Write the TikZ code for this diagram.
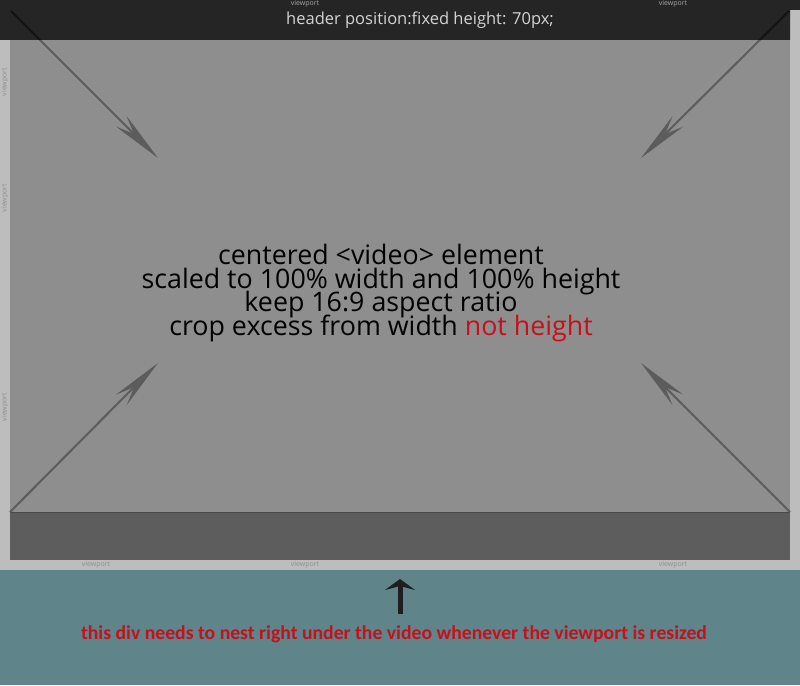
\documentclass[tikz,border=0pt]{standalone}
\usepackage{fontspec}
\setmainfont{Open Sans}
\newfontfamily\redfont{Carlito}
\usetikzlibrary{arrows.meta}
\definecolor{strip}{HTML}{BDBDBD}
\definecolor{video}{HTML}{8E8E8E}
\definecolor{band}{HTML}{5D5D5D}
\definecolor{teal}{HTML}{5F8489}
\definecolor{diag}{HTML}{5C5C5C}
\definecolor{vptop}{HTML}{A8A8A8}
\definecolor{vpbot}{HTML}{8E8E8E}
\definecolor{redtxt}{HTML}{C8101A}
\definecolor{hdrtxt}{HTML}{D4D4D4}
\tikzset{
  vplabel/.style={font=\fontsize{7}{8}\selectfont, inner sep=0pt},
  diagarrow/.style={draw=diag, line width=2pt, -{Stealth[length=52pt,width=15pt,inset=18pt]}},
  maintext/.style={font=\fontsize{26.8}{24}\selectfont, anchor=base, inner sep=0pt, text=black, text height=16pt, text depth=5pt},
}
\begin{document}
\begin{tikzpicture}[x=1pt,y=-1pt]
\useasboundingbox (0,0) rectangle (800,685);
% backgrounds
\fill[strip] (0,0) rectangle (800,570);
\fill[video] (10,40) rectangle (790,512);
\fill[band] (10,512) rectangle (790,560);
\draw[diag!80!black, line width=0.6pt] (10,512) -- (790,512);
\fill[teal] (0,570) rectangle (800,685);
% corner coordinates
\coordinate (tl) at (11,11);
\coordinate (tr) at (789,11);
\coordinate (bl) at (10,512);
\coordinate (br) at (790,512);
\coordinate (tlh) at (158,158);
\coordinate (trh) at (641,158);
\coordinate (blh) at (158,363);
\coordinate (brh) at (641,363);
\draw[diagarrow] (tl) -- (tlh);
\draw[diagarrow] (tr) -- (trh);
\draw[diagarrow] (bl) -- (blh);
\draw[diagarrow] (br) -- (brh);
% header
\fill[black, opacity=0.8] (0,0) -- (800,0) -- (800,10) -- (790,10) -- (790,40) -- (0,40) -- cycle;
\node[text=hdrtxt, font=\fontsize{16.5}{18}\selectfont, inner sep=0pt] (hdr) at (420,20) {header position:fixed height: 70px;};
% viewport labels
\node[vplabel, text=vptop] (v1) at (305,4) {viewport};
\node[vplabel, text=vptop] (v2) at (673,4) {viewport};
\node[vplabel, text=vpbot] (v3) at (96,565) {viewport};
\node[vplabel, text=vpbot] (v4) at (305,565) {viewport};
\node[vplabel, text=vpbot] (v5) at (673,565) {viewport};
\node[vplabel, text=vpbot, rotate=90] (v6) at (5,82) {viewport};
\node[vplabel, text=vpbot, rotate=90] (v7) at (5,198) {viewport};
\node[vplabel, text=vpbot, rotate=90] (v8) at (5,407) {viewport};
% main text
\node[maintext] (m1) at (381,264) {centered <video> element};
\node[maintext] (m2) at (381,288) {scaled to 100\% width and 100\% height};
\node[maintext] (m3) at (381,311) {keep 16:9 aspect ratio};
\node[maintext] (m4) at (381,335) {crop excess from width \textcolor{redtxt}{not height}};
% up arrow
\coordinate (ua) at (400,614);
\coordinate (ub) at (400,579);
\draw[black!88, line width=5pt, -{Triangle[length=11pt,width=30pt,inset=4pt]}] (ua) -- (ub);
% bottom text
\node[text=redtxt, font=\redfont\bfseries\fontsize{19.7}{21}\selectfont, inner sep=0pt] (note) at (394,634) {this div needs to nest right under the video whenever the viewport is resized};
\end{tikzpicture}
\end{document}
